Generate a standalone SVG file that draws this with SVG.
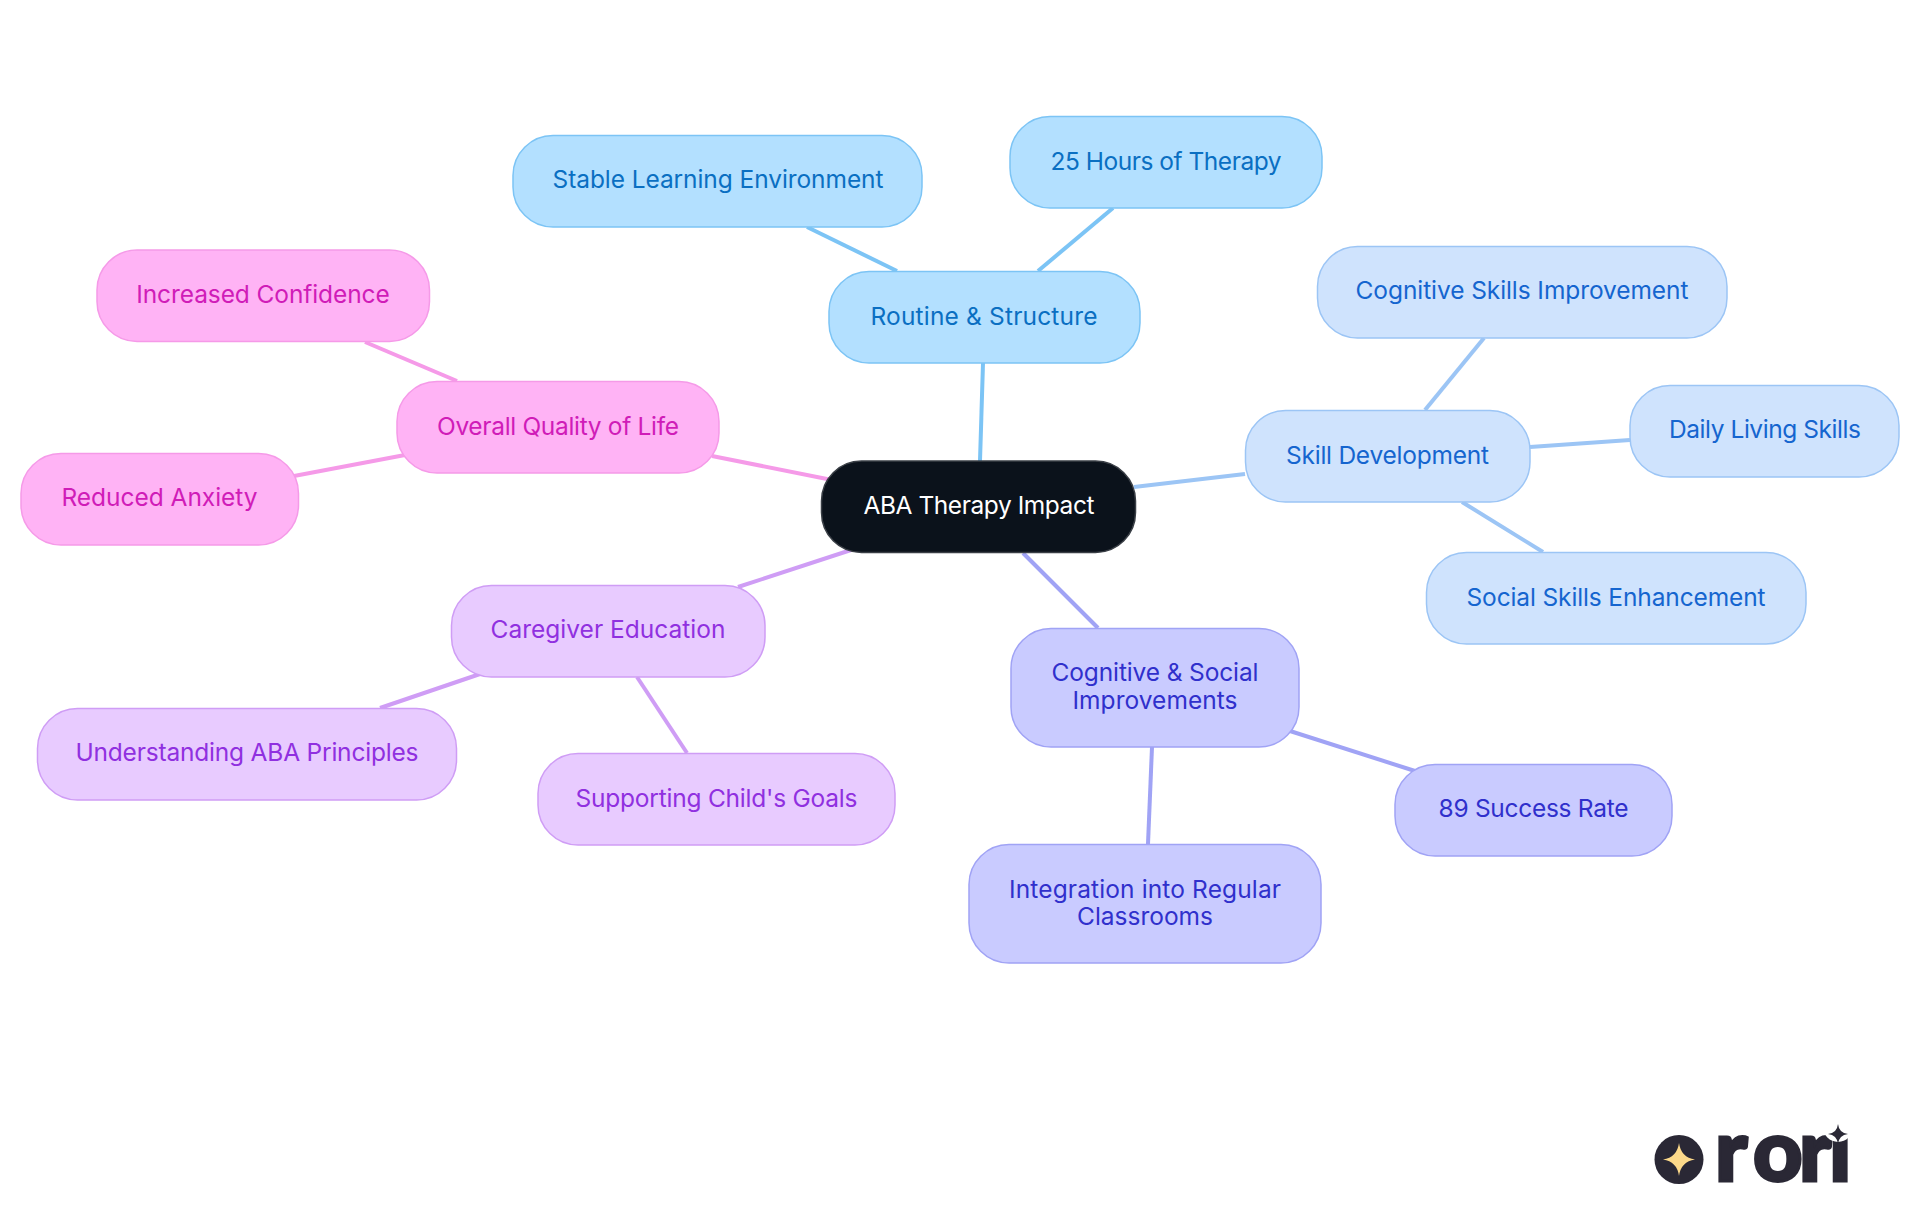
<svg xmlns="http://www.w3.org/2000/svg" width="1920" height="1215" viewBox="0 0 1920 1215">
<style>
text{font-family:"Inter","Noto Sans","Liberation Sans",sans-serif;font-size:24.5px;font-weight:400;text-anchor:middle}
.n{stroke-width:1.5}
.c{fill:none;stroke-width:4}
.a .n{fill:#b3e0ff;stroke:#7cc4f5}.a text{fill:#0a6fc2}
.b .n{fill:#cfe3fd;stroke:#9cc5f5}.b text{fill:#1565cf}
.d .n{fill:#c9cbff;stroke:#a0a3f5}.d text{fill:#3030cc}
.e .n{fill:#e8cbff;stroke:#cf9df5}.e text{fill:#9030e0}
.f .n{fill:#ffb3f5;stroke:#f59ae8}.f text{fill:#d01cb8}
#logo text{font-family:"Lato","Liberation Sans",sans-serif;font-weight:900;font-size:86px;text-anchor:start;fill:#2a2835;stroke:#2a2835;stroke-width:3}
</style>
<rect width="1920" height="1215" fill="#fff"/>
<g id="connectors">
<g class="c" stroke="#7cc4f5"><line x1="807" y1="227" x2="897" y2="271"/><line x1="1113" y1="208" x2="1038" y2="271"/><line x1="983" y1="363" x2="980" y2="461"/></g>
<g class="c" stroke="#9cc5f5"><line x1="1134" y1="487" x2="1245" y2="474"/><line x1="1484" y1="338" x2="1425" y2="410"/><line x1="1530" y1="447" x2="1630" y2="440"/><line x1="1462" y1="502" x2="1543" y2="552"/></g>
<g class="c" stroke="#a0a3f5"><line x1="1023" y1="553" x2="1098" y2="628"/><line x1="1290" y1="731" x2="1415" y2="771"/><line x1="1152" y1="747" x2="1148" y2="844"/></g>
<g class="c" stroke="#cf9df5"><line x1="851" y1="550" x2="738" y2="587"/><line x1="480" y1="674" x2="380" y2="708"/><line x1="637" y1="677" x2="687" y2="753"/></g>
<g class="c" stroke="#f59ae8"><line x1="832" y1="480" x2="712" y2="456"/><line x1="457" y1="381" x2="365" y2="342"/><line x1="405" y1="455" x2="294" y2="476"/></g>
</g>
<g id="center"><rect x="821.5" y="461" width="314" height="91.5" rx="40" fill="#0b121b" stroke="#3a3f46" stroke-width="1.5"/><text x="979" y="514" fill="#fff" textLength="231">ABA Therapy Impact</text></g>
<g id="routine" class="a"><rect class="n" x="829" y="271.5" width="311" height="91.5" rx="40"/><text x="984" y="325" textLength="227">Routine &amp; Structure</text></g>
<g id="stable" class="a"><rect class="n" x="513" y="135.5" width="409" height="91.5" rx="40"/><text x="718" y="188" textLength="331">Stable Learning Environment</text></g>
<g id="hours" class="a"><rect class="n" x="1010" y="116.5" width="312" height="91.5" rx="40"/><text x="1166" y="170" textLength="231">25 Hours of Therapy</text></g>
<g id="skill" class="b"><rect class="n" x="1245.5" y="410.5" width="284.5" height="91.5" rx="40"/><text x="1387.5" y="464" textLength="203">Skill Development</text></g>
<g id="cognitive-skills" class="b"><rect class="n" x="1317.5" y="246.5" width="409.5" height="91.5" rx="40"/><text x="1522" y="299" textLength="333">Cognitive Skills Improvement</text></g>
<g id="daily" class="b"><rect class="n" x="1630" y="385.5" width="269" height="91.5" rx="40"/><text x="1765" y="438" textLength="192">Daily Living Skills</text></g>
<g id="social" class="b"><rect class="n" x="1426.5" y="552.5" width="379.5" height="91.5" rx="40"/><text x="1616" y="606" textLength="299">Social Skills Enhancement</text></g>
<g id="cogsoc" class="d"><rect class="n" x="1011" y="628.5" width="288" height="118.5" rx="40"/><text x="1155" y="681" textLength="207">Cognitive &amp; Social</text><text x="1155" y="709" textLength="165">Improvements</text></g>
<g id="integration" class="d"><rect class="n" x="969" y="844.5" width="352" height="118.5" rx="40"/><text x="1145" y="898" textLength="272">Integration into Regular</text><text x="1145" y="925" textLength="136">Classrooms</text></g>
<g id="success" class="d"><rect class="n" x="1395" y="764.5" width="277" height="91.5" rx="40"/><text x="1533.5" y="817" textLength="190">89 Success Rate</text></g>
<g id="caregiver" class="e"><rect class="n" x="451.5" y="585.5" width="313.5" height="91.5" rx="40"/><text x="608" y="638" textLength="235">Caregiver Education</text></g>
<g id="understanding" class="e"><rect class="n" x="37.5" y="708.5" width="419" height="91.5" rx="40"/><text x="247" y="761" textLength="343">Understanding ABA Principles</text></g>
<g id="supporting" class="e"><rect class="n" x="538" y="753.5" width="357" height="91.5" rx="40"/><text x="716.5" y="807" textLength="282">Supporting Child's Goals</text></g>
<g id="overall" class="f"><rect class="n" x="397" y="381.5" width="322" height="91.5" rx="40"/><text x="558" y="435" textLength="242">Overall Quality of Life</text></g>
<g id="confidence" class="f"><rect class="n" x="97" y="250" width="332.5" height="91.5" rx="40"/><text x="263" y="303" textLength="253.5">Increased Confidence</text></g>
<g id="anxiety" class="f"><rect class="n" x="21" y="453.5" width="277.5" height="91.5" rx="40"/><text x="159.5" y="506" textLength="196">Reduced Anxiety</text></g>
<g id="logo"><circle cx="1679" cy="1159.5" r="24.5" fill="#2a2835"/><path d="M1679 1143Q1681 1157.500 1695 1159.500Q1681 1161.500 1679 1176Q1677 1161.500 1663 1159.500Q1677 1157.500 1679 1143Z" fill="#fcd98a"/>
<text x="1715 1753 1799 1829" y="1181">rori</text>
<circle cx="1838" cy="1127" r="15" fill="#fff"/>
<path d="M1838 1124Q1839 1133 1848 1134Q1839 1135 1838 1144Q1837 1135 1828 1134Q1837 1133 1838 1124Z" fill="#2a2835"/></g>
</svg>
